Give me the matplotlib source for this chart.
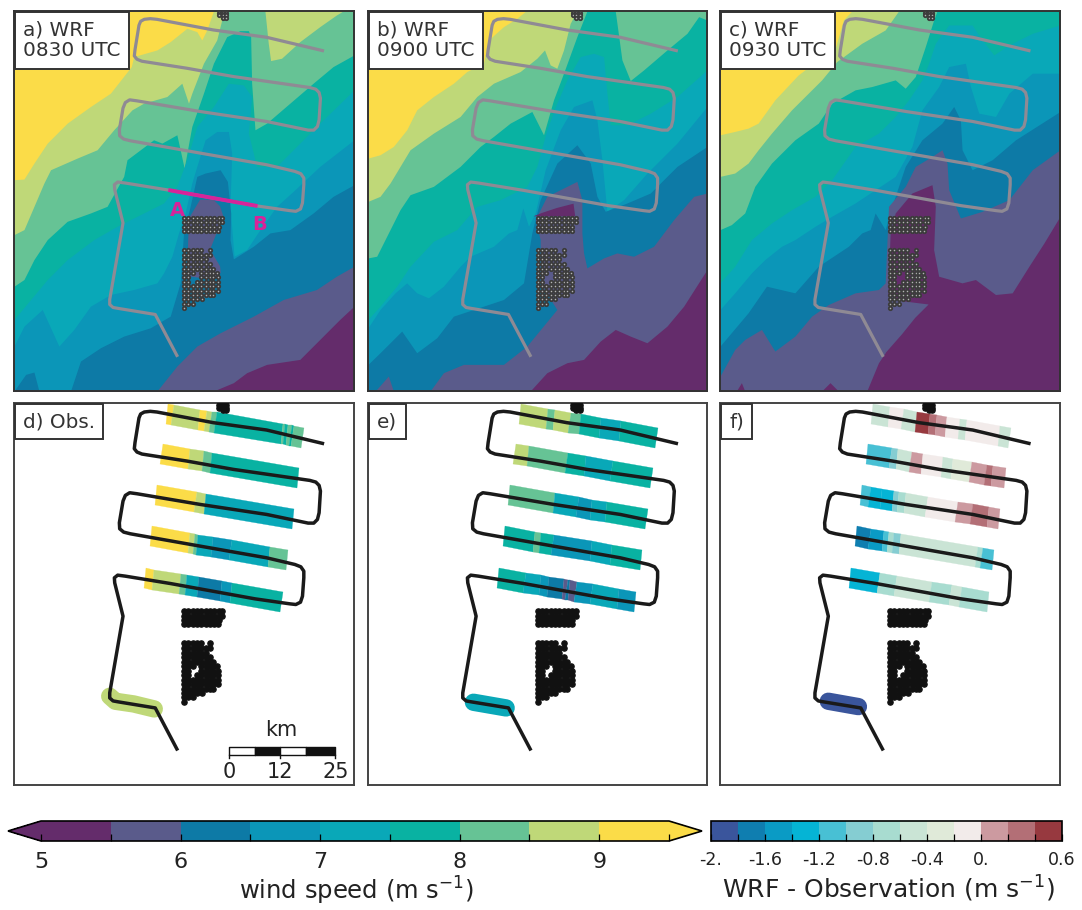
# Wind speed maps: WRF at three times (top), observations and differences along the flight (bottom)
import numpy as np
import matplotlib
matplotlib.use('Agg')
import matplotlib.pyplot as plt
from matplotlib.cm import ScalarMappable
from matplotlib.colors import BoundaryNorm, ListedColormap

# Colour classes
wind_levels = [5.0, 5.5, 6.0, 6.5, 7.0, 7.5, 8.0, 8.5, 9.0, 9.5]
wind_colors = ['#642c6b', '#5a5b8b', '#0d7aa6', '#0b96b8', '#09a8b8', '#09b2a2', '#66c395', '#bfd878', '#fbdc48']
diff_levels = [-2.0, -1.8, -1.6, -1.4, -1.2, -1.0, -0.8, -0.6, -0.4, -0.2, 0.0, 0.2, 0.4, 0.6]
diff_colors = ['#3a559c', '#0f7eb0', '#0a9bc5', '#05b4d5', '#48c0d4', '#85cdd2', '#a8dcd0',
               '#cae4d5', '#e0ead9', '#f2ebea', '#cc9aa0', '#b36f76', '#97393f']

# Isotachs of panel a, (x, y) on the map. Below a line the wind is lower than its level.
a_90 = [(40, 540), (70, 538), (100, 490), (140, 430), (200, 370), (270, 320), (330, 280), (393, 200), (400, 170), (470, 150),
        (510, 125), (560, 85), (590, 95), (605, 120), (620, 90), (640, 33), (1063, 33)]
a_85 = [(40, 705), (70, 690), (100, 620), (130, 550), (150, 510), (230, 475), (290, 450), (340, 390), (395, 330), (430, 310),
        (500, 290), (545, 250), (565, 310), (575, 280), (610, 190), (650, 120), (665, 60), (680, 33), (795, 33), (805, 130),
        (812, 182), (845, 175), (900, 125), (960, 80), (1010, 45), (1030, 33), (1063, 33)]
a_80 = [(40, 860), (70, 840), (100, 780), (140, 720), (200, 665), (270, 640), (320, 620), (370, 530), (380, 480), (420, 450),
        (460, 420), (485, 430), (530, 405), (552, 505), (575, 380), (610, 280), (640, 190), (680, 110), (720, 92), (745, 92),
        (752, 110), (755, 250), (765, 390), (800, 370), (870, 310), (940, 250), (1000, 200), (1063, 165)]
a_75 = [(40, 960), (90, 900), (140, 840), (200, 780), (280, 720), (350, 680), (430, 640), (490, 610), (530, 560), (560, 480),
        (590, 380), (640, 320), (685, 250), (730, 255), (755, 290), (745, 400), (770, 500), (830, 500), (900, 430), (960, 370),
        (1063, 270)]
a_70 = [(40, 1040), (70, 980), (125, 930), (150, 985), (175, 1040), (220, 990), (270, 920), (330, 885), (400, 870), (470, 850),
        (490, 820), (515, 770), (535, 700), (555, 640), (575, 550), (590, 500), (615, 420), (650, 395), (685, 395), (695, 460),
        (690, 620), (702, 770), (740, 750), (780, 690), (830, 620), (880, 575), (960, 500), (1063, 420)]
a_65 = [(40, 1175), (75, 1125), (100, 1118), (115, 1175), (210, 1175), (240, 1085), (300, 1045), (370, 1010), (450, 985),
        (510, 950), (540, 850), (550, 700), (570, 620), (590, 530), (615, 520), (660, 510), (682, 545), (692, 640), (690, 720),
        (700, 778), (760, 740), (810, 700), (870, 690), (940, 640), (1000, 590), (1063, 555)]
a_60 = [(40, 1175), (470, 1175), (530, 1100), (590, 1040), (660, 1000), (760, 950), (850, 900), (950, 870), (1010, 830), (1063, 800)]
a_55 = [(40, 1175), (640, 1175), (700, 1150), (740, 1120), (800, 1095), (900, 1080), (960, 1020), (1020, 960), (1063, 920)]
a_wake_60 = [(555, 680), (570, 650), (600, 600), (640, 600), (660, 620), (670, 650), (650, 700), (630, 750), (660, 800), (662, 820),
             (640, 840), (560, 830), (565, 700)]

# Isotachs of panel b
b_90 = [(24, 475), (60, 465), (100, 440), (140, 390), (170, 330), (220, 290), (280, 250), (320, 215), (370, 190), (385, 120),
        (430, 80), (470, 55), (497, 33), (1040, 33)]
b_85 = [(24, 605), (60, 590), (90, 550), (120, 500), (150, 450), (220, 400), (300, 350), (350, 290), (400, 250), (480, 215),
        (530, 175), (553, 150), (570, 195), (590, 205), (610, 150), (630, 70), (650, 33), (1040, 33)]
b_80 = [(24, 775), (50, 770), (80, 710), (120, 630), (150, 585), (220, 560), (300, 500), (360, 440), (400, 410), (450, 370),
        (515, 335), (550, 405), (580, 300), (610, 220), (650, 110), (680, 33), (765, 33), (785, 180), (810, 242), (850, 210),
        (920, 150), (980, 100), (1015, 50), (1040, 60)]
b_75 = [(24, 960), (60, 920), (110, 860), (150, 800), (220, 725), (290, 690), (350, 620), (420, 600), (500, 560), (530, 500),
        (560, 390), (590, 310), (620, 240), (660, 170), (700, 160), (730, 170), (740, 280), (750, 375), (800, 375), (870, 340),
        (950, 290), (1040, 210)]
b_70 = [(24, 985), (60, 930), (105, 880), (140, 850), (170, 880), (205, 895), (250, 860), (300, 800), (330, 770), (400, 740), (445, 700),
        (470, 690), (488, 625), (505, 680), (525, 640), (555, 510), (570, 470), (600, 390), (640, 320), (695, 300), (710, 360),
        (725, 480), (740, 635), (790, 600), (860, 520), (950, 430), (1040, 320)]
b_65 = [(24, 1095), (60, 1060), (125, 995), (170, 1060), (230, 1015), (280, 950), (340, 930), (430, 900), (490, 850), (515, 700),
        (540, 600), (590, 490), (650, 435), (690, 490), (710, 590), (735, 635), (800, 610), (870, 580), (950, 500), (1040, 440)]
b_60 = [(24, 1175), (50, 1170), (85, 1130), (100, 1175), (210, 1175), (250, 1120), (310, 1095), (430, 1095), (500, 1040), (590, 930),
        (540, 850), (540, 720), (525, 660), (560, 590), (650, 545), (665, 600), (665, 700), (670, 760), (680, 805),
        (730, 775), (770, 760), (820, 770), (880, 740), (940, 660), (1000, 590), (1040, 580)]
b_55 = [(24, 1175), (510, 1175), (560, 1120), (620, 1090), (670, 1080), (720, 1025), (765, 990), (810, 1010), (860, 1030),
        (920, 980), (970, 920), (1040, 810)]
b_wake_55 = [(520, 650), (545, 640), (590, 625), (640, 612), (645, 650)]

# Isotachs of panel c
c_90 = [(16, 405), (60, 395), (100, 385), (130, 370), (180, 300), (250, 225), (362, 140), (385, 60), (410, 33), (1033, 33)]
c_85 = [(16, 530), (60, 520), (100, 490), (130, 450), (170, 400), (230, 330), (320, 240), (365, 185), (440, 130), (510, 90),
        (550, 33), (1033, 33)]
c_80 = [(16, 690), (50, 675), (90, 640), (120, 560), (170, 490), (240, 420), (310, 370), (350, 310), (420, 270), (470, 260),
        (540, 240), (570, 265), (600, 230), (630, 140), (655, 60), (665, 33), (1033, 33)]
c_75 = [(16, 850), (60, 800), (110, 720), (170, 670), (230, 630), (300, 590), (350, 540), (420, 440), (490, 400), (540, 350),
        (580, 300), (620, 240), (640, 190), (660, 130), (700, 75), (770, 75), (800, 120), (835, 165), (880, 135), (950, 100), (1033, 75)]
c_70 = [(16, 930), (60, 880), (110, 820), (150, 780), (200, 740), (240, 720), (300, 680), (350, 650), (420, 610), (480, 570),
        (540, 530), (590, 440), (620, 330), (670, 260), (700, 200), (750, 190), (765, 260), (790, 340), (840, 350), (880, 280),
        (950, 220), (1033, 220)]
c_65 = [(16, 1040), (100, 940), (155, 860), (240, 880), (310, 800), (400, 740), (440, 700), (465, 690), (480, 640), (510, 690),
        (530, 620), (570, 500), (620, 420), (680, 370), (715, 320), (735, 360), (740, 450), (770, 510), (830, 480), (900, 420), (1033, 335)]
c_60 = [(16, 1130), (60, 1050), (90, 1020), (140, 990), (180, 1055), (240, 1010), (290, 950), (340, 915), (420, 880), (490, 870),
        (510, 850), (520, 620), (570, 560), (600, 500), (650, 470), (680, 450), (695, 490), (700, 570), (735, 655), (800, 635),
        (880, 600), (950, 510), (1033, 450)]
c_55 = [(16, 1175), (65, 1175), (80, 1150), (90, 1175), (320, 1175), (345, 1150), (370, 1175), (455, 1175), (490, 1090), (510, 1060),
        (518, 880), (525, 700), (540, 640), (590, 580), (650, 555), (660, 620), (655, 750), (670, 830), (740, 850), (780, 840),
        (840, 885), (890, 880), (940, 800), (985, 730), (1033, 650)]
c_pocket_60 = [(505, 880), (560, 905), (640, 915), (600, 955), (560, 1005), (510, 1062)]

# Flight track and cross section
track = [(968, 152), (800, 112), (640, 90), (470, 58), (450, 56), (432, 58), (421, 64), (416, 76), (404, 150), (402, 168), (410, 178),
         (425, 184), (560, 205), (700, 230), (930, 263), (948, 268), (958, 278), (962, 295), (958, 360), (953, 380), (942, 391),
         (925, 391), (800, 365), (600, 335), (410, 303), (388, 300), (375, 308), (368, 325), (357, 390), (358, 408), (370, 418),
         (390, 423), (600, 460), (800, 495), (885, 515), (903, 522), (912, 535), (912, 555), (908, 610), (902, 628), (888, 635),
         (870, 633), (765, 618), (510, 572), (375, 550), (352, 547), (342, 555), (343, 570), (368, 670), (328, 900), (328, 915),
         (338, 924), (355, 927), (465, 945), (530, 1068)]
section = [(510, 572), (767, 618)]
d_low_leg = [(328, 910), (345, 925), (400, 933), (462, 948)]
e_low_leg = [(360, 928), (458, 945)]
f_low_leg = [(368, 925), (458, 941)]

# Wind turbines
upper_farm_rows = [
    (655, [552, 565, 578, 591, 604, 617, 630, 643, 656, 666]),
    (668, [552, 565, 578, 591, 604, 617, 630, 643, 656, 666]),
    (681, [552, 565, 578, 591, 604, 617, 630, 643, 656]),
    (694, [552, 565, 578, 591, 604, 617, 630, 643, 654]),
]
lower_farm_rows = [
    (750, [552, 565, 578, 591, 604, 630]),
    (765, [552, 565, 578, 591, 604, 617, 630]),
    (779, [552, 565, 578, 591, 604, 617]),
    (793, [552, 565, 578, 591, 604, 617, 630]),
    (807, [552, 565, 578, 591, 604, 617, 630, 640]),
    (820, [552, 565, 578, 604, 617, 630, 640, 652]),
    (833, [552, 565, 604, 617, 630, 640, 654]),
    (847, [552, 565, 591, 604, 617, 630, 640, 654]),
    (860, [552, 565, 578, 591, 604, 617, 630, 640, 654]),
    (873, [552, 565, 578, 591, 604, 617, 630, 640, 654]),
    (887, [552, 565, 578, 591, 604, 617, 630, 640]),
    (900, [552, 565, 578, 591, 605]),
    (913, [552, 565, 578]),
    (926, [552]),
]
top_farm_rows = [(38, [658, 668, 678]), (46, [658, 668, 678]), (53, [668, 678])]

# Samples along the five flight legs: start of leg on the map, then edges and values per panel
leg_start_x = [503, 487, 470, 455, 437]
leg_start_y = [34, 154, 278, 401, 526]

d_edges = [[0, 17, 97, 117, 132, 147, 347, 352, 362, 372, 378, 409],
           [0, 83, 125, 150, 410],
           [0, 120, 148, 412],
           [0, 115, 130, 140, 185, 240, 355, 410],
           [0, 25, 105, 125, 160, 230, 260, 411]]
d_values = [[9.2, 8.7, 9.2, 8.7, 8.2, 7.7, 8.2, 7.7, 8.2, 7.7, 8.2],
            [9.2, 8.7, 8.2, 7.7],
            [9.2, 8.7, 7.2],
            [9.2, 8.7, 8.2, 7.2, 6.7, 7.2, 8.2],
            [9.2, 8.7, 8.2, 7.2, 6.2, 6.7, 7.7]]
e_edges = [[0, 80, 102, 148, 180, 240, 300, 409],
           [0, 40, 155, 210, 290, 410],
           [0, 135, 205, 245, 290, 412],
           [0, 90, 108, 145, 260, 320, 410],
           [0, 80, 125, 150, 195, 205, 212, 232, 280, 360, 411]]
e_values = [[8.7, 8.2, 8.7, 8.2, 7.7, 7.2, 7.7],
            [8.7, 8.2, 7.7, 7.2, 7.7],
            [8.2, 7.2, 6.7, 7.2, 7.7],
            [7.7, 8.2, 7.7, 6.7, 7.2, 7.7],
            [7.7, 7.2, 6.7, 6.2, 5.7, 6.2, 5.7, 6.7, 7.2, 6.7]]
f_edges = [[0, 50, 90, 130, 170, 190, 220, 260, 280, 380, 410],
           [0, 70, 90, 130, 165, 225, 255, 310, 355, 375, 412],
           [0, 25, 60, 95, 110, 130, 195, 285, 330, 380, 412],
           [0, 40, 80, 95, 110, 130, 360, 375, 410],
           [0, 85, 135, 240, 300, 330, 412]]
f_values = [[-0.5, -0.1, -0.5, 0.5, 0.3, 0.1, -0.1, -0.5, -0.1, -0.5],
            [-1.1, -0.9, -0.5, 0.1, -0.1, -0.5, -0.3, 0.1, 0.3, 0.1],
            [-1.1, -1.3, -1.3, -0.9, -0.7, -0.5, -0.1, 0.1, 0.3, 0.1],
            [-1.7, -1.5, -1.1, -0.7, -0.9, -0.5, -0.7, -1.1],
            [-1.3, -0.7, -0.5, -0.7, -0.5, -0.7]]
d_low_value = 8.7
e_low_value = 7.2
f_low_value = -1.9

# Scale bar (km)
scale_km = [0, 6, 12, 18, 25]
scale_labels = [0, 12, 25]

W, H = 1082, 910


def px_axes(left, top, right, bottom):
    # Axes from pixel edges of the picture
    return fig.add_axes([left / W, 1 - bottom / H, (right - left) / W, (bottom - top) / H])


def draw_farms(ax, shift, face, edge, size, width):
    for rows in (upper_farm_rows, lower_farm_rows, top_farm_rows):
        for y, xs in rows:
            ax.scatter(np.array(xs) - shift, [y] * len(xs), s=size, facecolor=face, edgecolor=edge, linewidth=width, zorder=5)


def draw_label(ax, text):
    ax.annotate(text, xy=(0, 1), xycoords='axes fraction', xytext=(6.5, -6.5), textcoords='offset points', ha='left', va='top',
                fontsize=14.4, color='#333333', linespacing=1.15, zorder=10,
                bbox=dict(boxstyle='square,pad=0.42', facecolor='white', edgecolor='#333333', linewidth=1.4))


wind_cmap = ListedColormap(wind_colors)
wind_cmap.set_under(wind_colors[0])
wind_cmap.set_over(wind_colors[-1])
wind_norm = BoundaryNorm(wind_levels, wind_cmap.N)
diff_cmap = ListedColormap(diff_colors)
diff_norm = BoundaryNorm(diff_levels, diff_cmap.N)

fig = plt.figure(figsize=(W / 100, H / 100), dpi=100)

# Top row: model wind speed
top_panels = [
    ('a) WRF\n0830 UTC', (14, 354), (40, 1063), 0, [a_90, a_85, a_80, a_75, a_70, a_65, a_60, a_55], [(a_wake_60, 1)]),
    ('b) WRF\n0900 UTC', (368, 707), (24, 1040), 20, [b_90, b_85, b_80, b_75, b_70, b_65, b_60, b_55], [(b_wake_55, 0)]),
    ('c) WRF\n0930 UTC', (720, 1060), (16, 1033), 28, [c_90, c_85, c_80, c_75, c_70, c_65, c_60, c_55], [(c_pocket_60, 1)]),
]
for label, (left, right), xlim, shift, isotachs, patches in top_panels:
    ax = px_axes(left, 11, right, 391)
    ax.set_facecolor(wind_colors[8])
    # Paint from the highest class down, every class covers everything below its isotach
    for i, line in enumerate(isotachs):
        xs, ys = zip(*line)
        ax.fill_between(xs, ys, 1200, color=wind_colors[7 - i], linewidth=0, zorder=1)
    for patch, color_index in patches:
        xs, ys = zip(*patch)
        ax.fill(xs, ys, color=wind_colors[color_index], linewidth=0, zorder=2)
    tx, ty = zip(*track)
    ax.plot(np.array(tx) - shift, ty, color='#8f8a94', lw=2.3, solid_joinstyle='round', zorder=4)
    draw_farms(ax, shift, '#b4b4b4', '#3c3c3c', 6, 1.3)
    ax.set_xlim(xlim)
    ax.set_ylim(1175, 33)
    ax.set_xticks([])
    ax.set_yticks([])
    for spine in ax.spines.values():
        spine.set_linewidth(1.4)
        spine.set_color('#333333')
    draw_label(ax, label)
    if label.startswith('a'):
        sx, sy = zip(*section)
        ax.plot(sx, sy, color='#d6249a', lw=2.8, zorder=6)
        ax.text(532, 632, 'A', color='#d6249a', fontsize=14, fontweight='bold', ha='center', va='center', zorder=6)
        ax.text(780, 675, 'B', color='#d6249a', fontsize=14, fontweight='bold', ha='center', va='center', zorder=6)

# Bottom row: values along the flight legs
bottom_panels = [
    ('d) Obs.', (14, 354), (40, 1063), 0, d_edges, d_values, d_low_leg, d_low_value, wind_cmap, wind_norm),
    ('e)', (368, 707), (24, 1040), 20, e_edges, e_values, e_low_leg, e_low_value, wind_cmap, wind_norm),
    ('f)', (720, 1060), (16, 1033), 28, f_edges, f_values, f_low_leg, f_low_value, diff_cmap, diff_norm),
]
for label, (left, right), xlim, shift, edges, values, low_leg, low_value, cmap, norm in bottom_panels:
    ax = px_axes(left, 403, right, 785)
    for x0, y0, leg_edges, leg_values in zip(leg_start_x, leg_start_y, edges, values):
        s = np.array(leg_edges, dtype=float)
        # Each leg is a slanted band
        mesh_x = np.array([x0 + s, x0 + s - 7]) - shift
        mesh_y = np.array([y0 + s * 71 / 410, y0 + s * 71 / 410 + 60])
        ax.pcolormesh(mesh_x, mesh_y, np.array([leg_values]), cmap=cmap, norm=norm, edgecolors='face', linewidth=0.2, antialiased=True)
    lx, ly = zip(*low_leg)
    ax.plot(np.array(lx) - shift, ly, color=cmap(norm(low_value)), lw=12.5, solid_capstyle='round', solid_joinstyle='round', zorder=2)
    tx, ty = zip(*track)
    ax.plot(np.array(tx) - shift, ty, color='#1a1a1a', lw=2.5, solid_joinstyle='round', zorder=4)
    draw_farms(ax, shift, '#111111', '#111111', 14, 1.0)
    ax.set_xlim(xlim)
    ax.set_ylim(1176, 31)
    ax.set_xticks([])
    ax.set_yticks([])
    for spine in ax.spines.values():
        spine.set_linewidth(1.4)
        spine.set_color('#444444')
    draw_label(ax, label)
    if label.startswith('d'):
        bar_x = 688 + np.array(scale_km) * 12.76
        for i in range(len(scale_km) - 1):
            ax.broken_barh([(bar_x[i], bar_x[i + 1] - bar_x[i])], (1061, 25), facecolors='white' if i % 2 == 0 else '#111111',
                           edgecolor='#111111', linewidth=1.0, zorder=6)
        for km in scale_labels:
            x = 688 + km * 12.76
            ax.plot([x, x], [1086, 1096], color='#111111', lw=1.0, zorder=6)
            ax.text(x, 1136, str(km), fontsize=15, color='#222222', ha='center', va='center', zorder=6)
        ax.text(845, 1011, 'km', fontsize=15, color='#222222', ha='center', va='center', zorder=6)

# Colour bars, the extend triangles take their room inside the axes
cax = px_axes(8, 821, 702, 841)
cb = fig.colorbar(ScalarMappable(norm=wind_norm, cmap=wind_cmap), cax=cax, orientation='horizontal', extend='both',
                  extendfrac=33 / 628, spacing='proportional')
cb.set_ticks([5, 6, 7, 8, 9])
cax.set_xticks(wind_levels, minor=True)
cax.tick_params(axis='x', which='major', direction='in', length=5, width=0.9, labelsize=16, pad=8, labelcolor='#222222')
cax.tick_params(axis='x', which='minor', direction='in', length=5, width=0.9)
cb.outline.set_linewidth(1.2)
fig.text(356 / W, 1 - 891 / H, 'wind speed (m s$^{-1}$)', fontsize=17.5, color='#222222', ha='center', va='center')

cax2 = px_axes(711, 821, 1062, 841)
cb2 = fig.colorbar(ScalarMappable(norm=diff_norm, cmap=diff_cmap), cax=cax2, orientation='horizontal', spacing='proportional')
cb2.set_ticks([-2.0, -1.6, -1.2, -0.8, -0.4, 0.0, 0.6], labels=['-2.', '-1.6', '-1.2', '-0.8', '-0.4', '0.', '0.6'])
cax2.set_xticks(diff_levels, minor=True)
cax2.tick_params(axis='x', which='major', direction='in', length=5, width=0.9, labelsize=12.5, pad=7, labelcolor='#222222')
cax2.tick_params(axis='x', which='minor', direction='in', length=5, width=0.9)
cb2.outline.set_linewidth(1.2)
fig.text(889 / W, 1 - 889 / H, 'WRF - Observation (m s$^{-1}$)', fontsize=18, color='#222222', ha='center', va='center')

fig.savefig('out.png', dpi=100)
